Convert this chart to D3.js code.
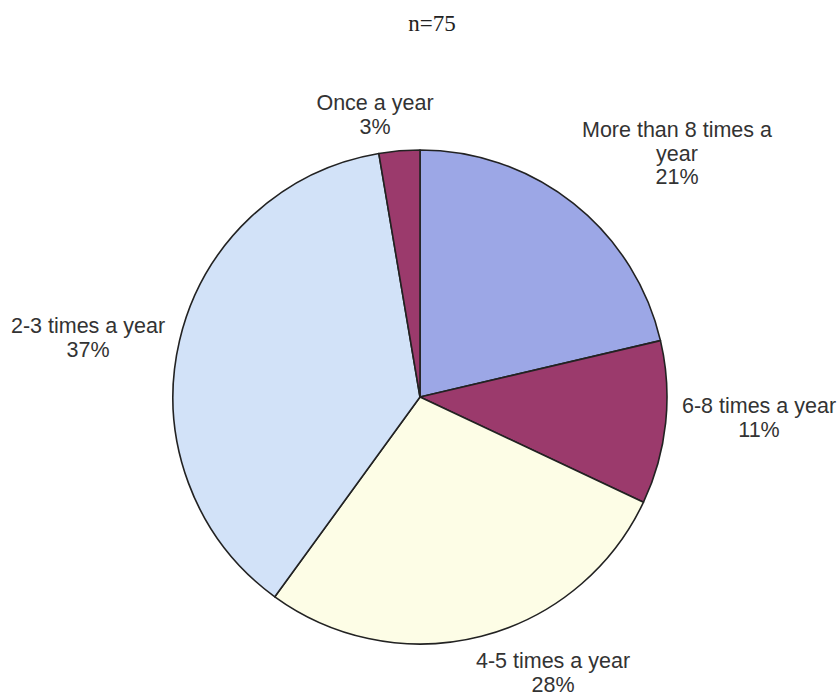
<!DOCTYPE html>
<html><head><meta charset="utf-8">
<script src="https://cdn.jsdelivr.net/npm/d3@7"></script>
<style>body{margin:0;background:#fff}svg{display:block}</style>
</head><body>
<script>
const title = "n=75";
const categories = ["More than 8 times a year","6-8 times a year","4-5 times a year","2-3 times a year","Once a year"];
const counts = [16, 8, 21, 28, 2];
const percentLabels = ["21%","11%","28%","37%","3%"];
const colors = ["#9ca7e6","#9b3a6c","#fdfde6","#d2e2f8","#9b3a6c"];
const labelLines = [["More than 8 times a","year"],["6-8 times a year"],["4-5 times a year"],["2-3 times a year"],["Once a year"]];

const W=840,H=697, cx=420, cy=397, R=247;
const svg=d3.select("body").append("svg").attr("width",W).attr("height",H);
svg.append("text").attr("x",432).attr("y",31).attr("text-anchor","middle")
  .attr("font-family","Liberation Serif, Times New Roman, serif").attr("font-size",23).attr("fill","#222").text(title);

const pie=d3.pie().sort(null).value(d=>d)(counts);
const arc=d3.arc().innerRadius(0).outerRadius(R);
const g=svg.append("g").attr("transform",`translate(${cx},${cy})`);
g.selectAll("path").data(pie).join("path").attr("d",arc)
  .attr("fill",(d,i)=>colors[i]).attr("stroke","#222").attr("stroke-width",1.6).attr("stroke-linejoin","round");

// label anchors (centre x, first baseline y)
const labelPos=[[677,137],[759,413],[553,668],[88,333],[375,110]];
const lh=23.5;
categories.forEach((c,i)=>{
  const lines=labelLines[i].concat([percentLabels[i]]);
  const t=svg.append("text").attr("text-anchor","middle")
    .attr("font-family","Liberation Sans, Arial, sans-serif").attr("font-size",21.5).attr("fill","#333");
  lines.forEach((l,k)=>t.append("tspan").attr("x",labelPos[i][0]).attr("y",labelPos[i][1]+k*lh).text(l));
});
</script>
</body></html>
